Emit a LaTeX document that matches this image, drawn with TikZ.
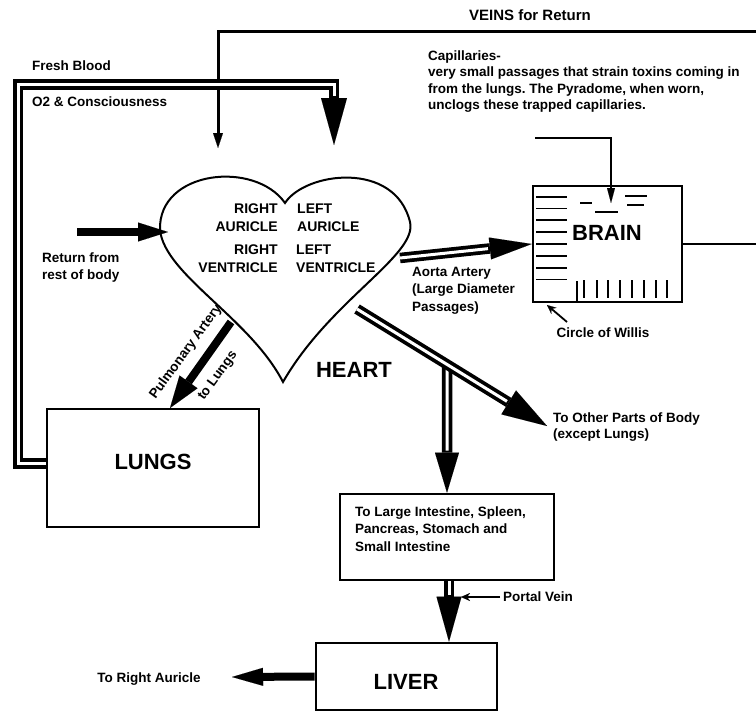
\documentclass[tikz,border=0pt]{standalone}
\usepackage{fontspec}
\setmainfont{Liberation Sans}
\usetikzlibrary{arrows.meta,calc}
\frenchspacing
\tikzset{
  box/.style={draw, line width=2.6pt, inner sep=0pt},
  lbl/.style={font=\fontsize{13.5}{17}\selectfont\bfseries, inner sep=0pt, align=left},
  hl/.style={font=\fontsize{14}{18}\selectfont\bfseries, inner sep=0pt},
  big/.style={font=\fontsize{22}{26}\selectfont\bfseries, inner sep=0pt},
  outer/.style={line width=10.5pt, draw=black},
  inner/.style={line width=3pt, draw=white},
  fat/.style={line width=8pt},
  ah/.style args={#1/#2}{-{Triangle[line width=0.01pt,length=#1,width=#2]}},
  thin tip/.style={-{Stealth[line width=0.01pt,length=9pt,width=8pt]}},
}
\begin{document}
\begin{tikzpicture}[x=1pt,y=-1pt,line join=miter]
\fill[white] (0,0) rectangle (756,712);
\useasboundingbox (0,0) rectangle (756,712);

% boxes
\node[box, minimum width=149pt, minimum height=116pt] (brain) at (607.5,244) {};
\node[box, minimum width=212pt, minimum height=118pt] (lungs) at (153,468) {};
\node[box, minimum width=214pt, minimum height=86pt] (intest) at (447,537) {};
\node[box, minimum width=181pt, minimum height=67pt] (liver) at (406.5,676.5) {};

% big labels
\node[big] (brainT) at (607,233) {BRAIN};
\node[big] (lungsT) at (153,462) {LUNGS};
\node[big] (liverT) at (406,682) {LIVER};
\node[big] (heartT) at (354,370) {HEART};

% heart
\draw[line width=2pt] (285,203) .. controls (305,172) and (395,160) .. (410,222)
  .. controls (418,255) and (330,300) .. (283,382)
  .. controls (250,318) and (165,275) .. (160,230)
  .. controls (158,170) and (255,160) .. (285,203) -- cycle;
\node[hl, anchor=east, align=right] (ra) at (278,218) {RIGHT\\AURICLE};
\node[hl, anchor=east, align=right] (rv) at (278,259) {RIGHT\\VENTRICLE};
\node[hl, anchor=west, align=left] (la) at (297,217.5) {LEFT\\AURICLE};
\node[hl, anchor=west, align=left] (lv) at (296,258.5) {LEFT\\VENTRICLE};

% texts
\node[lbl, font=\fontsize{15}{18}\selectfont\bfseries] (veinsT) at (530,15) {VEINS for Return};
\node[lbl, anchor=west] (fresh) at (32,66) {Fresh Blood};
\node[lbl, anchor=west] (o2) at (32,102) {O2 \& Consciousness};
\node[lbl, anchor=west, font=\fontsize{13.5}{16.3}\selectfont\bfseries] (capT) at (428,81.5)
  {Capillaries-\\very small passages that strain toxins coming in\\from the lungs. The Pyradome, when worn,\\unclogs these trapped capillaries.};
\node[lbl, anchor=west] (retT) at (42,267.5) {Return from\\rest of body};
\node[lbl, anchor=west, font=\fontsize{13.5}{17.5}\selectfont\bfseries] (aoT) at (412,290.5) {Aorta Artery\\(Large Diameter\\Passages)};
\node[lbl] (cwT) at (603,333) {Circle of Willis};
\node[lbl, anchor=west, font=\fontsize{13.5}{16}\selectfont\bfseries] (opT) at (553,427) {To Other Parts of Body\\(except Lungs)};
\node[lbl, anchor=west, font=\fontsize{13.5}{17.5}\selectfont\bfseries] (inT) at (355,529) {To Large Intestine, Spleen,\\Pancreas, Stomach and\\Small Intestine};
\node[lbl, anchor=west] (pvT) at (503,597) {Portal Vein};
\node[lbl] (raT) at (149,679) {To Right Auricle};
\node[lbl, rotate=54] (paT1) at (186,352) {Pulmonary Artery};
\node[lbl, rotate=54] (paT2) at (218,376) {to Lungs};

% coordinates
\coordinate (vR) at (756,31);
\coordinate (vTip) at (218,148);
\coordinate (capA) at (535,138);
\coordinate (capTip) at (611,203);
\coordinate (bR) at (756,245);
\coordinate (fbS) at ($(lungs.west)+(0,-4.5)$);
\coordinate (fbC) at (18,84.5);
\coordinate (fbT) at (334,145);
\coordinate (retS) at (77,232);
\coordinate (heartL) at (168,232);
\coordinate (paS) at (231,322);
\coordinate (paTip) at (170,408);
\coordinate (aoS) at (400,258);
\coordinate (dS) at (357,309);
\coordinate (dT) at (547,426);
\coordinate (vT) at ($(dS)!0.4737!(dT)$);
\coordinate (pvS) at ($(intest.south)+(2,0)$);
\coordinate (pvE) at (pvS |- liver.north);
\coordinate (plA) at (500,597);
\coordinate (plT) at (461,597);
\coordinate (cwA) at (567,322);
\coordinate (cwTip) at (547,305);
\coordinate (rAur) at (232,677);

% veins
\draw[line width=3pt, ah=15pt/10pt] (vR) -| (vTip);
\draw[line width=2.8pt] (brain.east) -- (brain.east -| bR);
% capillaries pointer
\draw[line width=1.8pt, ah=15pt/8pt] (capA) -| (capTip);
% brain interior
\foreach \yy in {196.7,208.5,220.3,232.2,244,255.8,267.7,279.5}
  \draw[line width=1.8pt] (536,\yy) -- (567,\yy);
\foreach \xx in {584,596.7,608.3,620,632.3,644,655.7,667.3}
  \draw[line width=2.2pt] (\xx,280) -- (\xx,298);
\draw[line width=2.2pt] (577.3,281) -- (577.3,302);
\draw[line width=2pt] (580,203) -- (592,203) (595,212) -- (618,212)
  (625,196) -- (647,196) (627,205) -- (644,205);

% fresh blood double line
\draw[outer, ah=47pt/26pt] (fbS) -| (fbC) -| (fbT);
\draw[inner, shorten >=49pt] (fbS) -| (fbC) -| (fbT);

% return arrow
\draw[fat, ah=30pt/19pt] (retS) -- (heartL);
% pulmonary
\draw[fat, ah=32pt/22pt] (paS) -- (paTip);
% aorta
\draw[outer, ah=42pt/22pt] (aoS) -- (brain.west);
\draw[inner, shorten >=44pt] (aoS) -- (brain.west);
% vertical to intestines
\draw[outer, ah=40pt/24pt] (vT) -- (intest.north);
\draw[inner, shorten >=42pt] (vT) -- (intest.north);
% diagonal to other parts
\draw[outer, ah=45pt/28pt] (dS) -- (dT);
\draw[inner, shorten >=47pt] (dS) -- (dT);
% portal
\draw[outer, ah=45pt/25pt] (pvS) -- (pvE);
\draw[inner, shorten >=47pt] (pvS) -- (pvE);
\draw[line width=1.6pt, thin tip] (plA) -- (plT);
% circle of willis
\draw[line width=1.8pt, thin tip] (cwA) -- (cwTip);
% liver to right auricle
\draw[fat, ah=31pt/18pt] (liver.west) -- (rAur);
\end{tikzpicture}
\end{document}
